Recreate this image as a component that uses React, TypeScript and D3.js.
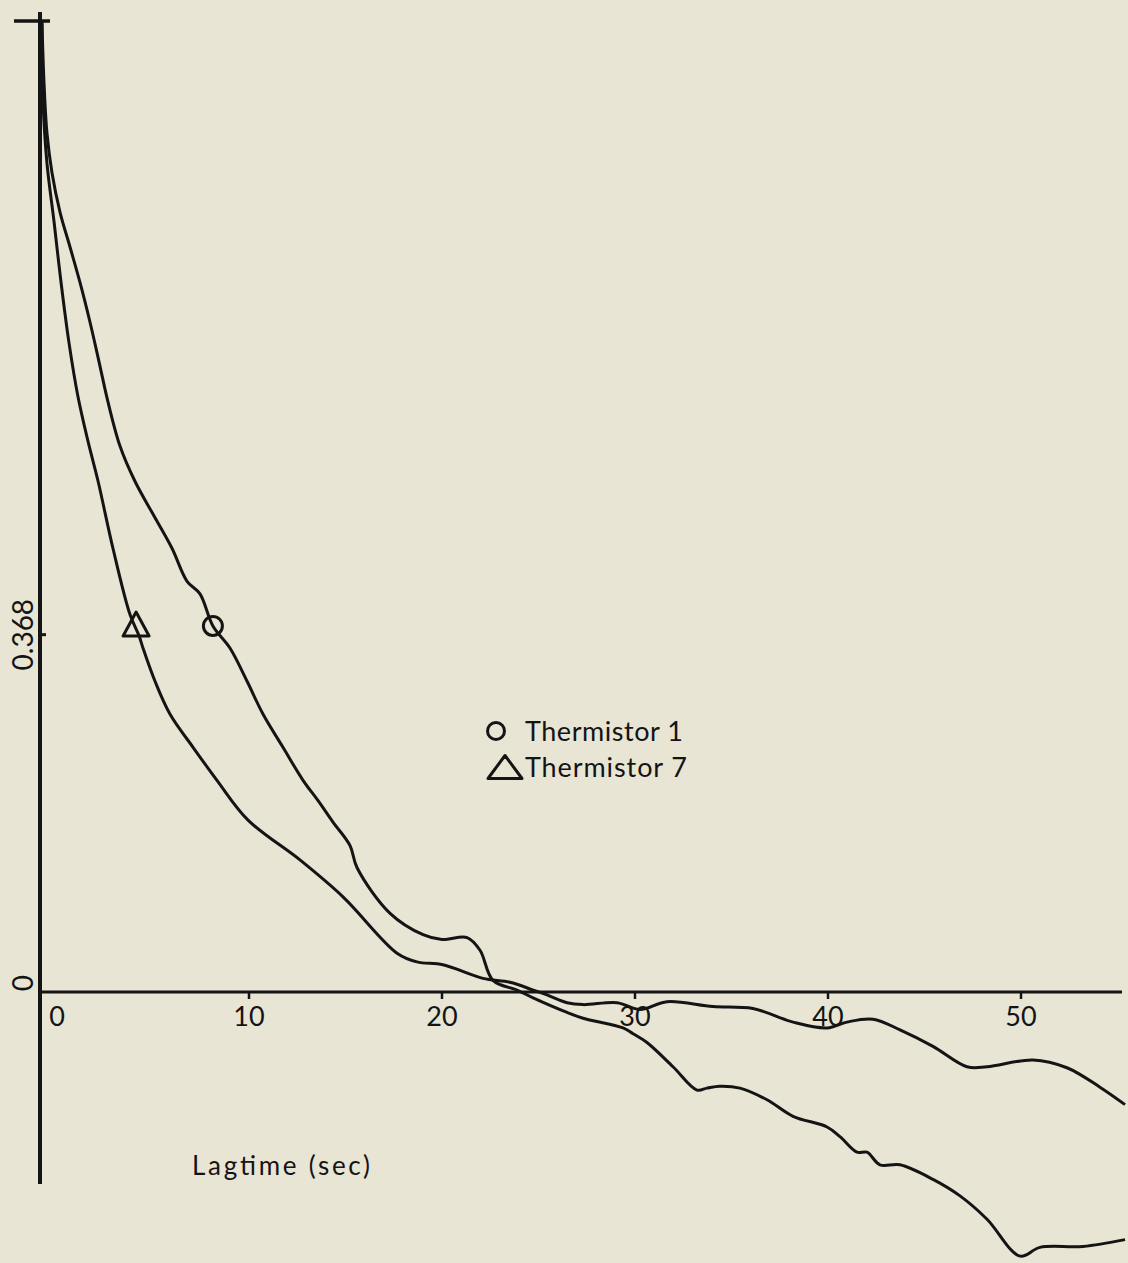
import * as d3 from "d3";

// lag time (sec) and correlation
const lagT1 = [-0.73, -0.62, -0.47, -0.21, 0.21, 0.73, 1.24, 1.76, 2.23, 2.69, 3.32, 4.09, 5.03, 6.01, 6.79, 7.46, 8.13, 9.02, 9.9, 10.73, 11.76, 12.8, 13.58, 14.35, 15.23, 15.6, 17.31, 19.02, 20.0, 21.3, 21.97, 22.64, 23.89, 24.72, 26.48, 27.31, 29.38, 29.9, 30.62, 31.97, 33.21, 33.73, 34.4, 35.44, 36.84, 38.19, 39.95, 40.62, 41.5, 42.02, 42.69, 43.73, 45.44, 46.84, 48.24, 49.95, 50.98, 53.21, 55.39];
const rhoT1 = [1.0, 0.936, 0.885, 0.844, 0.803, 0.767, 0.731, 0.69, 0.649, 0.608, 0.562, 0.526, 0.492, 0.457, 0.423, 0.41, 0.377, 0.354, 0.32, 0.286, 0.252, 0.218, 0.197, 0.175, 0.151, 0.128, 0.081, 0.059, 0.054, 0.056, 0.043, 0.012, 0.002, -0.006, -0.021, -0.027, -0.037, -0.043, -0.052, -0.077, -0.101, -0.099, -0.097, -0.099, -0.111, -0.128, -0.139, -0.149, -0.165, -0.165, -0.178, -0.178, -0.193, -0.21, -0.234, -0.272, -0.263, -0.262, -0.255];

const lagT7 = [-0.73, -0.67, -0.47, -0.1, 0.26, 0.67, 1.14, 1.66, 2.18, 2.95, 3.83, 4.3, 4.51, 5.13, 5.91, 7.1, 8.34, 9.95, 12.64, 14.87, 17.67, 18.7, 20.05, 22.12, 23.52, 24.72, 25.44, 26.48, 27.31, 29.07, 30.26, 31.66, 34.04, 36.11, 38.19, 39.95, 40.98, 42.33, 43.73, 45.44, 47.2, 48.24, 50.62, 52.38, 54.09, 55.39];
const rhoT7 = [1.0, 0.916, 0.854, 0.793, 0.731, 0.669, 0.613, 0.567, 0.526, 0.457, 0.389, 0.367, 0.354, 0.32, 0.286, 0.252, 0.218, 0.177, 0.136, 0.098, 0.04, 0.031, 0.028, 0.014, 0.01, 0.002, -0.003, -0.011, -0.013, -0.011, -0.018, -0.01, -0.015, -0.017, -0.031, -0.037, -0.031, -0.028, -0.039, -0.056, -0.077, -0.077, -0.07, -0.078, -0.098, -0.116];

const seriesNames = ["Thermistor 1", "Thermistor 7"];
const markerLag = [8.13, 4.15];
const markerRho = [0.377, 0.379];

const xTicks = [0, 10, 20, 30, 40, 50];
const yTickValues = [0, 0.368, 1];
const yTickLabels = ["0", "0.368", ""];

const W = 1128;
const H = 1263;
const ink = "#141414";
const font = "Lato, 'DejaVu Sans', sans-serif";

const x = d3.scaleLinear().domain([0, 50]).range([56, 1021]);
const y = d3.scaleLinear().domain([0, 1]).range([992, 21]);

const line = d3
  .line<[number, number]>()
  .x((d) => x(d[0]))
  .y((d) => y(d[1]))
  .curve(d3.curveCatmullRom.alpha(0.5));

// open triangle centred on (cx, cy)
const tri = (cx: number, cy: number, w: number, h: number) =>
  `M${cx},${cy - h / 2} L${cx + w / 2},${cy + h / 2} L${cx - w / 2},${cy + h / 2} Z`;

const App = () => {
  const t1 = lagT1.map((t, i) => [t, rhoT1[i]] as [number, number]);
  const t7 = lagT7.map((t, i) => [t, rhoT7[i]] as [number, number]);
  const axisX = 40;
  const y0 = y(0);

  return (
    <svg
      width={W}
      height={H}
      style={{ position: "absolute", left: 0, top: 0, background: "#e8e5d4" }}
    >
      <rect width={W} height={H} fill="#e8e5d4" />

      {/* y axis */}
      <line x1={axisX} x2={axisX} y1={12} y2={1184} stroke={ink} strokeWidth={4} />
      <line x1={14} x2={50} y1={y(1)} y2={y(1)} stroke={ink} strokeWidth={3.5} />
      <line x1={axisX} x2={46} y1={y(0.368)} y2={y(0.368)} stroke={ink} strokeWidth={3} />
      {yTickValues.map((v, i) =>
        yTickLabels[i] ? (
          <text
            key={"yl" + i}
            transform={`translate(33,${y(v) - (v === 0 ? 9 : 0)}) rotate(-90)`}
            textAnchor="middle"
            fontFamily={font}
            fontSize={28}
            fill={ink}
          >
            {yTickLabels[i]}
          </text>
        ) : null
      )}

      {/* x axis */}
      <line x1={axisX} x2={1122} y1={y0} y2={y0} stroke={ink} strokeWidth={3} />
      {xTicks.map((t) => (
        <g key={"xt" + t}>
          {t > 0 && <line x1={x(t)} x2={x(t)} y1={y0} y2={y0 + 7} stroke={ink} strokeWidth={2.5} />}
          <text
            x={x(t) + (t === 0 ? 1 : 0)}
            y={1026}
            textAnchor="middle"
            fontFamily={font}
            fontSize={27}
            fill={ink}
          >
            {t}
          </text>
        </g>
      ))}
      <text x={192} y={1175} fontFamily={font} fontSize={26} fill={ink} textLength={178} lengthAdjust="spacing">
        Lagtime (sec)
      </text>

      {/* curves */}
      <path d={line(t1) ?? ""} fill="none" stroke={ink} strokeWidth={3} strokeLinejoin="round" />
      <path d={line(t7) ?? ""} fill="none" stroke={ink} strokeWidth={3} strokeLinejoin="round" />

      {/* markers at 0.368 */}
      <circle cx={x(markerLag[0])} cy={y(markerRho[0])} r={9.5} fill="none" stroke={ink} strokeWidth={3} />
      <path d={tri(x(markerLag[1]), y(markerRho[1]), 26, 24)} fill="none" stroke={ink} strokeWidth={3} strokeLinejoin="round" />

      {/* legend */}
      <circle cx={496} cy={731} r={8.5} fill="none" stroke={ink} strokeWidth={3} />
      <text x={525} y={741} fontFamily={font} fontSize={27} fill={ink} textLength={158} lengthAdjust="spacing">
        {seriesNames[0]}
      </text>
      <path d={tri(505, 767, 34, 23)} fill="none" stroke={ink} strokeWidth={3} strokeLinejoin="round" />
      <text x={525} y={777} fontFamily={font} fontSize={27} fill={ink} textLength={162} lengthAdjust="spacing">
        {seriesNames[1]}
      </text>
    </svg>
  );
};

export default App;
